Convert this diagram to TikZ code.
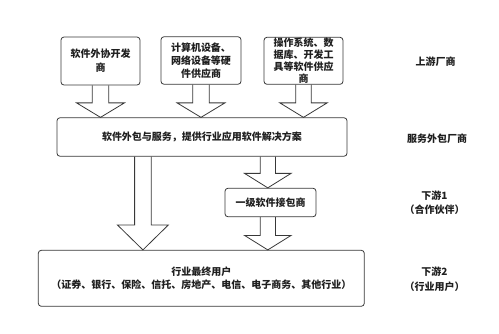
\documentclass[tikz,border=0pt]{standalone}
\usepackage{fontspec}
\setmainfont{Noto Sans CJK SC}
\usetikzlibrary{calc}
\tikzset{
  boxstyle/.style={draw=black!78, line width=0.8pt, rounded corners=3pt, inner sep=0pt, align=center, font=\bfseries\fontsize{10}{13}\selectfont, text=black!88},
  sidelabel/.style={inner sep=0pt, align=center, font=\bfseries\fontsize{10}{14.5}\selectfont, text=black!88},
  blockarrow/.style={draw=black!78, line width=0.8pt, line join=miter}
}
\newcommand\hollowdown[5]{%
  \draw[blockarrow] let \p1=(#1), \p2=(#2) in
    (\x1-#3,\y1) -- (\x1-#3,\y2+#5) -- (\x1-#4,\y2+#5) -- (\x1,\y2)
    -- (\x1+#4,\y2+#5) -- (\x1+#3,\y2+#5) -- (\x1+#3,\y1);}
\begin{document}
\begin{tikzpicture}[x=1pt,y=-1pt]
\useasboundingbox (0,0) rectangle (499,333);
% boxes
\node[boxstyle, minimum width=79pt, minimum height=48pt] (b1) at (100.5,61) {软件外协开发\\[1pt]商};
\node[boxstyle, minimum width=80pt, minimum height=47.5pt] (b2) at (201,60.5) {计算机设备、\\[-0.3pt]网络设备等硬\\[-0.3pt]件供应商};
\node[boxstyle, minimum width=79pt, minimum height=47pt, font=\bfseries\fontsize{10}{12}\selectfont] (b3) at (303.5,60.8) {操作系统、数\\据库、开发工\\具等软件供应\\商};
\node[boxstyle, minimum width=290pt, minimum height=38.5pt] (big) at (202,137) {软件外包与服务，提供行业应用软件解决方案};
\node[boxstyle, minimum width=91pt, minimum height=28.5pt] (sub) at (270.5,202.5) {一级软件接包商};
\node[boxstyle, minimum width=326pt, minimum height=56pt] (bot) at (201.3,278.3) {行业最终用户\\[-0.3pt]（证券、银行、保险、信托、房地产、电信、电子商务、其他行业）};
% side labels
\node[sidelabel] (up) at (435.7,62) {上游厂商};
\node[sidelabel] (svc) at (437,138.3) {服务外包厂商};
\node[sidelabel] (d1) at (434.5,202.5) {下游1\\（合作伙伴）};
\node[sidelabel] (d2) at (434.5,279) {下游2\\（行业用户）};
% anchor coordinates for arrows
\coordinate (a4top) at ([xshift=86.3pt]big.south west);
\coordinate (a5top) at ([xshift=211.2pt]big.south west);
\coordinate (a6top) at (a5top |- sub.south);
% block arrows
\hollowdown{b1.south}{b1.south |- big.north}{8.3pt}{24pt}{14.5pt}
\hollowdown{b2.south}{b2.south |- big.north}{8.3pt}{24pt}{14.5pt}
\hollowdown{b3.south}{b3.south |- big.north}{7.8pt}{23.7pt}{14.5pt}
\hollowdown{a4top}{a4top |- bot.north}{8.3pt}{25.5pt}{25pt}
\hollowdown{a5top}{a5top |- sub.north}{7.6pt}{23.3pt}{14.5pt}
\hollowdown{a6top}{a6top |- bot.north}{7.6pt}{23.3pt}{14.5pt}
\end{tikzpicture}
\end{document}
